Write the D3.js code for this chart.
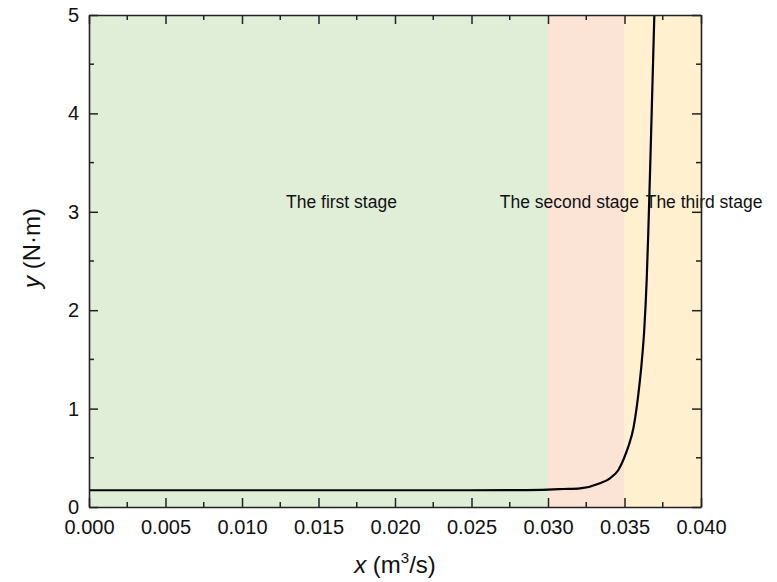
<!DOCTYPE html>
<html>
<head>
    <meta charset="utf-8">
    <script src="https://d3js.org/d3.v7.min.js"></script>
    <style>
        body { margin: 0; background: #fff; }
        svg { font-family: "Liberation Sans", Arial, sans-serif; }
    </style>
</head>
<body>
    <svg width="777" height="582" id="chart"></svg>
    <script>
        // flow rate (m3/s) and torque (N·m)
        const flowX = [0, 0.005, 0.010, 0.015, 0.020, 0.025, 0.028, 0.030, 0.031, 0.0321,
                       0.0334, 0.03405, 0.0346, 0.03492, 0.03525, 0.03558, 0.0359, 0.03612,
                       0.03629, 0.03645, 0.03656, 0.03671, 0.03695];
        const torqueY = [0.17, 0.17, 0.17, 0.17, 0.17, 0.17, 0.172, 0.177, 0.183, 0.19,
                         0.241, 0.292, 0.376, 0.478, 0.613, 0.80, 1.14, 1.463,
                         1.799, 2.307, 2.815, 3.63, 5.0];

        const stageNames = ["The first stage", "The second stage", "The third stage"];
        const stageStart = [0, 0.030, 0.035];
        const stageEnd = [0.030, 0.035, 0.040];
        const stageLabelX = [0.0165, 0.0314, 0.0402];
        const stageLabelY = 3.1;
        const stageColors = ["#e0eed8", "#fbe3d6", "#fff0cf"];

        const xTicks = [0, 0.005, 0.010, 0.015, 0.020, 0.025, 0.030, 0.035, 0.040];
        const yTicks = [0, 1, 2, 3, 4, 5];

        const mLeft = 89, mRight = 701, mTop = 15, mBottom = 507;
        const svg = d3.select("#chart");

        const x = d3.scaleLinear().domain([0, 0.040]).range([mLeft, mRight]);
        const y = d3.scaleLinear().domain([0, 5]).range([mBottom, mTop]);

        // stage backgrounds
        svg.append("g").selectAll("rect")
            .data(stageNames)
            .enter().append("rect")
            .attr("x", (d, i) => x(stageStart[i]))
            .attr("width", (d, i) => x(stageEnd[i]) - x(stageStart[i]))
            .attr("y", mTop)
            .attr("height", mBottom - mTop)
            .attr("fill", (d, i) => stageColors[i]);

        // curve
        const pts = flowX.map((v, i) => [v, torqueY[i]]);
        svg.append("path")
            .datum(pts)
            .attr("fill", "none")
            .attr("stroke", "#000")
            .attr("stroke-width", 2.2)
            .attr("d", d3.line().x(d => x(d[0])).y(d => y(d[1])).curve(d3.curveMonotoneX));

        // stage labels
        svg.append("g").selectAll("text")
            .data(stageNames)
            .enter().append("text")
            .attr("x", (d, i) => x(stageLabelX[i]))
            .attr("y", y(stageLabelY) + 6)
            .attr("text-anchor", "middle")
            .attr("font-size", "17.5px")
            .attr("fill", "#111")
            .text(d => d);

        // minor ticks
        const xMinor = d3.range(0.0025, 0.040, 0.005);
        const yMinor = d3.range(0.5, 5, 1);
        const minor = svg.append("g").attr("stroke", "#222").attr("stroke-width", 1.5);
        xMinor.forEach(v => {
            minor.append("line").attr("x1", x(v)).attr("x2", x(v)).attr("y1", mBottom).attr("y2", mBottom - 5);
            minor.append("line").attr("x1", x(v)).attr("x2", x(v)).attr("y1", mTop).attr("y2", mTop + 5);
        });
        yMinor.forEach(v => {
            minor.append("line").attr("y1", y(v)).attr("y2", y(v)).attr("x1", mLeft).attr("x2", mLeft + 5);
            minor.append("line").attr("y1", y(v)).attr("y2", y(v)).attr("x1", mRight).attr("x2", mRight - 5);
        });

        // axes with inward ticks
        function styleAxis(g) {
            g.selectAll("path").attr("stroke", "#222").attr("stroke-width", 1.6);
            g.selectAll("line").attr("stroke", "#222").attr("stroke-width", 1.5);
            g.selectAll("text").attr("font-size", "20px").attr("fill", "#111");
        }

        svg.append("g")
            .attr("transform", `translate(0,${mBottom})`)
            .call(d3.axisBottom(x).tickValues(xTicks).tickFormat(d3.format(".3f"))
                .tickSizeInner(-9).tickSizeOuter(0).tickPadding(13))
            .call(styleAxis);

        svg.append("g")
            .attr("transform", `translate(0,${mTop})`)
            .call(d3.axisTop(x).tickValues(xTicks).tickFormat("")
                .tickSizeInner(-9).tickSizeOuter(0))
            .call(styleAxis);

        svg.append("g")
            .attr("transform", `translate(${mLeft},0)`)
            .call(d3.axisLeft(y).tickValues(yTicks).tickFormat(d3.format("d"))
                .tickSizeInner(-9).tickSizeOuter(0).tickPadding(10))
            .call(styleAxis);

        svg.append("g")
            .attr("transform", `translate(${mRight},0)`)
            .call(d3.axisRight(y).tickValues(yTicks).tickFormat("")
                .tickSizeInner(-9).tickSizeOuter(0))
            .call(styleAxis);

        // axis titles
        const xt = svg.append("text")
            .attr("x", (mLeft + mRight) / 2)
            .attr("y", 573)
            .attr("text-anchor", "middle")
            .attr("font-size", "24px")
            .attr("fill", "#111");
        xt.append("tspan").attr("font-style", "italic").text("x");
        xt.append("tspan").text(" (m");
        xt.append("tspan").attr("font-size", "15px").attr("dy", "-10").text("3");
        xt.append("tspan").attr("dy", "10").text("/s)");

        const yt = svg.append("text")
            .attr("transform", `translate(40,248) rotate(-90)`)
            .attr("text-anchor", "middle")
            .attr("font-size", "24px")
            .attr("fill", "#111");
        yt.append("tspan").attr("font-style", "italic").text("y");
        yt.append("tspan").text(" (N·m)");
    </script>
</body>
</html>
